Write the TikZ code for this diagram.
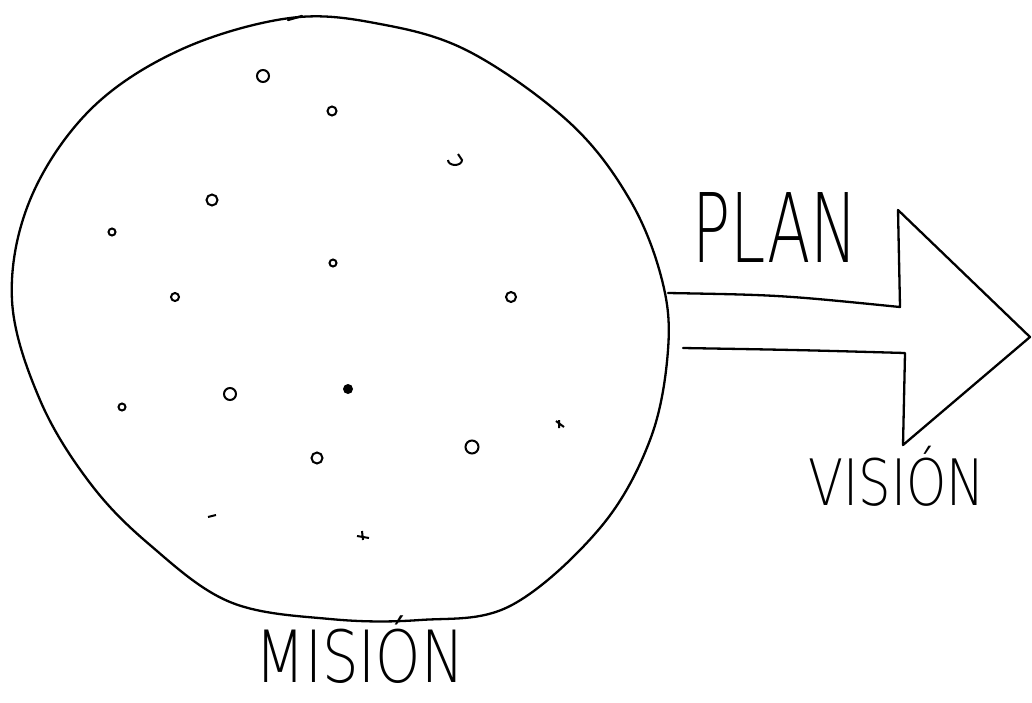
\documentclass[tikz,border=0pt]{standalone}
\usepackage{fontspec}
\usepackage{graphicx}
\newfontfamily\handfont{DejaVu Sans ExtraLight}
\usetikzlibrary{positioning}

\begin{document}
\begin{tikzpicture}[x=1pt, y=-1pt,
        pen/.style={line width=2.3pt, line join=round, line cap=round, black},
        hand/.style={font=\handfont, inner sep=0pt, text=black, anchor=base},
        speck/.style={line width=2pt, black}
      ]
        \useasboundingbox (0,0) rectangle (1032,702);
        % Mision blob
        \draw[pen] plot[smooth cycle, tension=0.6] coordinates {
          (290,18) (380,24) (470,52) (570,123) (630,200) (662,280) (668,350)
          (650,440) (600,528) (510,606) (420,620) (330,619) (230,602)
          (150,545) (90,483) (40,400) (12,300) (30,200) (90,110) (180,50)};
        \draw[pen] (288,20) -- (302,16);
        % specks inside
        \foreach \px/\py/\r in {263/76/6, 332/111/4.5, 212/200/5.5, 112/232/3.5,
            333/263/3.5, 175/297/4, 511/297/5, 122/407/3.5, 230/394/6,
            317/458/5.5, 472/447/6.5}
          \draw[speck] (\px,\py) circle (\r);
        \fill (348,389) circle (5);
        \draw[speck] (448,160) arc (180:0:7 and 5) -- ++(-4,-6);
        \draw[speck] (556,421) -- (564,427) (559,420) -- (559,428);
        \draw[speck] (208,517) -- (216,515);
        \draw[speck] (357,536) -- (369,538) (362,531) -- (363,540);
        % arrow from mision to vision
        \draw[pen] (668,293) .. controls (780,295) .. (900,307)
          -- (898,210) -- (1030,337) -- (903,445) -- (905,353)
          .. controls (800,350) .. (683,348);
        \node[hand] (plan) at (775,262) {\fontsize{96}{96}\selectfont\scalebox{0.66}[1]{PLAN}};
        \node[hand] (vision) at (897,505) {\fontsize{64}{64}\selectfont\scalebox{0.8}[1]{VISIÓN}};
        \node[hand] (mision) at (360,682) {\fontsize{72}{72}\selectfont\scalebox{0.8}[1]{MISIÓN}};
      \end{tikzpicture}
\end{document}
